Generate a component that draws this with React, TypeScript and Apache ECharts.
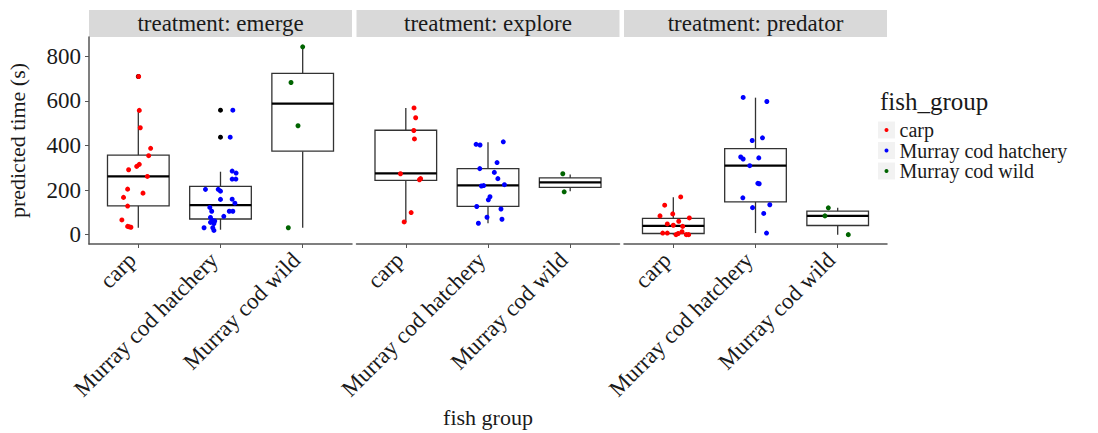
import React, { useEffect, useRef } from 'react';
import * as echarts from 'echarts';

const categories = ['carp', 'Murray cod hatchery', 'Murray cod wild'];
const treatments = ['treatment: emerge', 'treatment: explore', 'treatment: predator'];
const yTicks = [0, 200, 400, 600, 800];
const groupColors = ['#FF0000', '#0000FF', '#006400'];

// box stats per category: [min, q1, median, q3, max]
const boxEmerge = [
  [31, 129, 261, 356, 552],
  [22, 70, 132, 216, 282],
  [31, 374, 587, 723, 842],
];
const boxExplore = [
  [57, 243, 275, 468, 568],
  [51, 127, 221, 296, 414],
  [194, 212, 234, 254, 270],
];
const boxPredator = [
  [0, 5, 39, 73, 168],
  [7, 147, 309, 386, 614],
  [0, 41, 84, 105, 120],
];

// boxplot outliers: [category index, value]
const outEmerge = [[0, 709], [1, 558], [1, 437]];
const outExplore: number[][] = [];
const outPredator: number[][] = [];

// jittered observations: [jitter offset, value]
const emergeCarp = [
  [0.004, 709], [0.012, 557], [0.024, 479], [0.15, 387], [0.126, 354], [0.012, 315],
  [-0.02, 306], [-0.118, 291], [0.11, 261], [-0.13, 204], [0.057, 186], [-0.18, 167],
  [-0.13, 128], [-0.2, 66], [-0.11, 35], [-0.09, 33], [-0.13, 37],
];
const emergeHatchery = [
  [0.15, 558], [0.118, 437], [0.142, 285], [0.19, 276], [0.142, 249], [0.187, 249],
  [-0.183, 203], [-0.028, 203], [0.0, 195], [0.0, 158], [0.142, 159], [0.175, 141],
  [-0.13, 122], [-0.107, 105], [0.107, 105], [0.15, 105], [0.04, 82], [-0.122, 77],
  [-0.1, 64], [-0.07, 61], [-0.122, 55], [-0.08, 50], [-0.2, 31], [-0.094, 31], [-0.08, 19],
];
const emergeWild = [[0, 842], [-0.142, 682], [-0.057, 488], [-0.175, 31]];

const exploreCarp = [
  [0.1, 568], [0.12, 524], [0.097, 467], [0.105, 429], [-0.065, 273], [0.166, 246],
  [0.18, 251], [0.065, 99], [-0.02, 57],
];
const exploreHatchery = [
  [-0.145, 405], [-0.097, 402], [0.186, 416], [0.11, 323], [-0.1, 296], [0.077, 279],
  [0.12, 251], [0.2, 224], [-0.08, 218], [-0.052, 220], [0.024, 170], [0.004, 156],
  [-0.137, 126], [0.158, 115], [-0.012, 78], [0.17, 69], [-0.117, 51],
];
const exploreWild = [[-0.09, 273], [-0.073, 192]];

const predatorCarp = [
  [0.09, 169], [-0.105, 132], [-0.162, 84], [-0.007, 93], [0.195, 75], [0.066, 60],
  [-0.073, 48], [0, 42], [0.114, 37], [-0.129, 7], [-0.073, 7], [0.033, 0],
  [0.06, 5], [0.106, 13], [0.158, 0], [0.187, 0],
];
const predatorHatchery = [
  [-0.15, 615], [0.138, 597], [-0.04, 422], [0.085, 434], [-0.18, 348], [-0.15, 339],
  [0.04, 344], [-0.07, 309], [0.028, 230], [0.045, 228], [-0.154, 165], [0.174, 134],
  [-0.036, 121], [0.1, 95], [0.134, 7],
];
const predatorWild = [[-0.114, 120], [-0.155, 84], [0.129, 0]];

const panels = [
  { box: boxEmerge, out: outEmerge, pts: [emergeCarp, emergeHatchery, emergeWild] },
  { box: boxExplore, out: outExplore, pts: [exploreCarp, exploreHatchery, exploreWild] },
  { box: boxPredator, out: outPredator, pts: [predatorCarp, predatorHatchery, predatorWild] },
];

const FONT = '"Liberation Serif", "DejaVu Serif", serif';
const TXT = '#1a1a1a';
const AXC = '#555555';

export default function App() {
  const ref = useRef<HTMLDivElement>(null);

  useEffect(() => {
    if (!ref.current) return;
    const chart = echarts.init(ref.current, undefined, { renderer: 'svg' });

    const gridLefts = [89, 356.5, 624];
    const gridW = 263;
    const gridTop = 37;
    const gridH = 207;

    const grids = gridLefts.map((l) => ({ left: l, top: gridTop, width: gridW, height: gridH }));

    const xAxes = gridLefts.map((_, p) => ({
      type: 'value',
      gridIndex: p,
      min: -0.6,
      max: 2.6,
      splitLine: { show: false },
      axisLine: { show: true, onZero: false, lineStyle: { color: AXC, width: 1.5 } },
      axisTick: { show: true, customValues: [0, 1, 2], length: 4, lineStyle: { color: AXC } },
      axisLabel: {
        customValues: [0, 1, 2],
        formatter: (v: number) => categories[Math.round(v)] ?? '',
        rotate: 45,
        margin: 6,
        padding: [0, 9, 0, 0],
        fontFamily: FONT,
        fontSize: 23,
        color: TXT,
      },
      ...(p === 1
        ? {
            name: 'fish group',
            nameLocation: 'middle',
            nameGap: 162,
            nameTextStyle: { fontFamily: FONT, fontSize: 22, color: TXT },
          }
        : {}),
    }));

    const yAxes = gridLefts.map((_, p) => ({
      type: 'value',
      gridIndex: p,
      min: -42,
      max: 886,
      splitLine: { show: false },
      axisLine: { show: p === 0, onZero: false, lineStyle: { color: AXC, width: 1.5 } },
      axisTick: { show: p === 0, customValues: yTicks, length: 4, lineStyle: { color: AXC } },
      axisLabel: {
        show: p === 0,
        customValues: yTicks,
        margin: 8,
        fontFamily: FONT,
        fontSize: 23,
        color: TXT,
      },
      ...(p === 0
        ? {
            name: 'predicted time (s)',
            nameLocation: 'middle',
            nameGap: 61,
            nameTextStyle: { fontFamily: FONT, fontSize: 22, color: TXT },
          }
        : {}),
    }));

    const series: any[] = [];
    panels.forEach((panel, p) => {
      series.push({
        type: 'custom',
        xAxisIndex: p,
        yAxisIndex: p,
        z: 2,
        silent: true,
        encode: { x: 0, y: [1, 2, 3, 4, 5] },
        data: panel.box.map((b, i) => [i, ...b]),
        renderItem: (_params: any, api: any) => {
          const x = api.value(0);
          const lo = api.coord([x, api.value(1)]);
          const q1 = api.coord([x, api.value(2)]);
          const md = api.coord([x, api.value(3)]);
          const q3 = api.coord([x, api.value(4)]);
          const hi = api.coord([x, api.value(5)]);
          const w = api.size([0.75, 0])[0];
          const cx = lo[0];
          const st = { stroke: '#333333', lineWidth: 1.3, fill: 'none' };
          return {
            type: 'group',
            children: [
              { type: 'line', shape: { x1: cx, y1: hi[1], x2: cx, y2: q3[1] }, style: st },
              { type: 'line', shape: { x1: cx, y1: q1[1], x2: cx, y2: lo[1] }, style: st },
              {
                type: 'rect',
                shape: { x: cx - w / 2, y: q3[1], width: w, height: q1[1] - q3[1] },
                style: { fill: '#ffffff', stroke: '#333333', lineWidth: 1.3 },
              },
              {
                type: 'line',
                shape: { x1: cx - w / 2, y1: md[1], x2: cx + w / 2, y2: md[1] },
                style: { stroke: '#000000', lineWidth: 2.2 },
              },
            ],
          };
        },
      });
      if (panel.out.length) {
        series.push({
          type: 'scatter',
          xAxisIndex: p,
          yAxisIndex: p,
          z: 3,
          silent: true,
          symbolSize: 5,
          itemStyle: { color: '#000000', opacity: 1 },
          data: panel.out,
        });
      }
      panel.pts.forEach((pts, g) => {
        series.push({
          type: 'scatter',
          name: categories[g],
          xAxisIndex: p,
          yAxisIndex: p,
          z: 4,
          silent: true,
          symbolSize: 5,
          itemStyle: { color: groupColors[g], opacity: 1 },
          data: pts.map(([j, v]) => [g + j, v]),
        });
      });
    });

    const rowYs = [130, 150.5, 171];
    const graphics: any[] = [];
    gridLefts.forEach((l, p) => {
      graphics.push({
        type: 'rect',
        shape: { x: l, y: 10, width: gridW, height: 27 },
        style: { fill: '#D9D9D9' },
        silent: true,
      });
      graphics.push({
        type: 'text',
        x: l + gridW / 2,
        y: 23.5,
        style: {
          text: treatments[p],
          fontFamily: FONT,
          fontSize: 23,
          fill: TXT,
          align: 'center',
          verticalAlign: 'middle',
        },
        silent: true,
      });
    });
    graphics.push({
      type: 'text',
      x: 880,
      y: 101,
      style: {
        text: 'fish_group',
        fontFamily: FONT,
        fontSize: 25,
        fill: TXT,
        align: 'left',
        verticalAlign: 'middle',
      },
      silent: true,
    });
    rowYs.forEach((cy) => {
      graphics.push({
        type: 'rect',
        shape: { x: 878, y: cy - 8.5, width: 17, height: 17 },
        style: { fill: '#F2F2F2' },
        z: -1,
        silent: true,
      });
    });

    chart.setOption({
      animation: false,
      backgroundColor: '#ffffff',
      grid: grids,
      xAxis: xAxes,
      yAxis: yAxes,
      series,
      legend: {
        data: categories,
        orient: 'vertical',
        left: 884.5,
        top: 120,
        itemWidth: 4,
        itemHeight: 4,
        itemGap: 0.5,
        icon: 'circle',
        selectedMode: false,
        padding: 0,
        itemStyle: { opacity: 1 },
        textStyle: {
          fontFamily: FONT,
          fontSize: 20,
          lineHeight: 20,
          color: TXT,
          padding: [0, 0, 0, 6],
        },
      },
      graphic: graphics,
    });

    return () => chart.dispose();
  }, []);

  return (
    <div
      ref={ref}
      style={{ position: 'absolute', left: 0, top: 0, width: 1098, height: 433 }}
    />
  );
}
